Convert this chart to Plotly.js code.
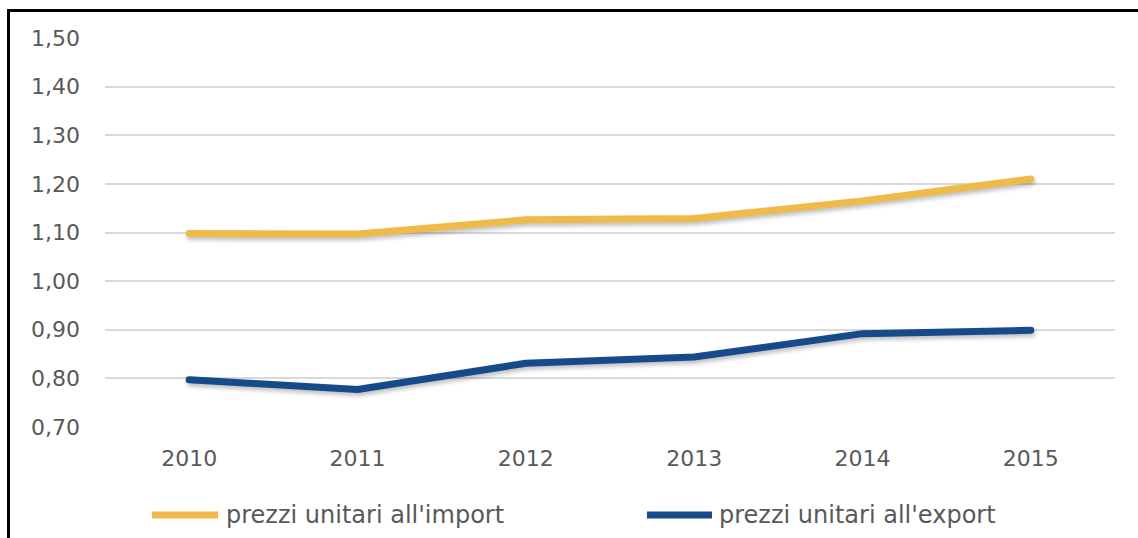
<!DOCTYPE html>
<html>
<head>
<meta charset="utf-8">
<script src="https://cdn.plot.ly/plotly-3.0.1.min.js"></script>
<style>
  html, body { margin: 0; padding: 0; background: #fff; width: 1138px; height: 538px; overflow: hidden; }
  #frame { position: absolute; left: 7px; top: 9px; width: 1131px; height: 529px;
           border-left: 3px solid #000; border-top: 3px solid #000; box-sizing: border-box; }
  #chart { position: absolute; left: 10px; top: 12px; width: 1128px; height: 526px; }
  .js-line { stroke-linecap: round; stroke-linejoin: round; filter: drop-shadow(1px 3px 2px rgba(0,0,0,0.25)); }
</style>
</head>
<body>
<div id="frame"></div>
<div id="chart"></div>
<script>
const years = ['2010', '2011', '2012', '2013', '2014', '2015'];
const seriesNames = ["prezzi unitari all'import", "prezzi unitari all'export"];
const importPrices = [1.098, 1.097, 1.126, 1.129, 1.165, 1.210];
const exportPrices = [0.797, 0.777, 0.831, 0.844, 0.892, 0.899];
const seriesColors = ['#EFBA46', '#174A8B'];
const yTicks = [0.70, 0.80, 0.90, 1.00, 1.10, 1.20, 1.30, 1.40, 1.50];

const fontFam = '"DejaVu Sans", "Open Sans", sans-serif';
const tickColor = '#595959';

const traces = [
  { x: years, y: importPrices, name: seriesNames[0], type: 'scatter', mode: 'lines',
    line: { color: seriesColors[0], width: 7 }, showlegend: false, hoverinfo: 'x+y' },
  { x: years, y: exportPrices, name: seriesNames[1], type: 'scatter', mode: 'lines',
    line: { color: seriesColors[1], width: 7 }, showlegend: false, hoverinfo: 'x+y' }
];

// custom legend (long swatches like the original)
const legendY = -0.226;
const legendItems = [
  { x0: 0.0465, x1: 0.1119, tx: 0.1178 },
  { x0: 0.5366, x1: 0.6010, tx: 0.6059 }
];
const shapes = legendItems.map((it, i) => ({
  type: 'line', xref: 'paper', yref: 'paper', x0: it.x0, x1: it.x1, y0: legendY, y1: legendY,
  line: { color: seriesColors[i], width: 7 }
}));
const annotations = legendItems.map((it, i) => ({
  xref: 'paper', yref: 'paper', x: it.tx, y: legendY, xanchor: 'left', yanchor: 'middle',
  text: seriesNames[i], showarrow: false, font: { family: fontFam, size: 24, color: tickColor }
}));

const layout = {
  width: 1128, height: 526,
  margin: { l: 95, r: 23, t: 26, b: 111 },
  paper_bgcolor: '#ffffff', plot_bgcolor: '#ffffff',
  separators: ',.',
  showlegend: false,
  font: { family: fontFam, size: 22, color: tickColor },
  xaxis: {
    type: 'category', categoryorder: 'array', categoryarray: years,
    range: [-0.5, 5.5], showgrid: false, zeroline: false,
    showline: false, ticks: '', ticklabelstandoff: 16,
    tickfont: { family: fontFam, size: 22, color: tickColor }, fixedrange: true
  },
  yaxis: {
    range: [0.70, 1.50], tickvals: yTicks, tickformat: '.2f',
    showgrid: true, gridcolor: '#d9d9d9', gridwidth: 2, zeroline: false,
    showline: false, ticks: '', ticklabelstandoff: 24,
    tickfont: { family: fontFam, size: 22, color: tickColor }, fixedrange: true
  },
  shapes: shapes,
  annotations: annotations
};

Plotly.newPlot('chart', traces, layout, { displayModeBar: false, staticPlot: false });
</script>
</body>
</html>
